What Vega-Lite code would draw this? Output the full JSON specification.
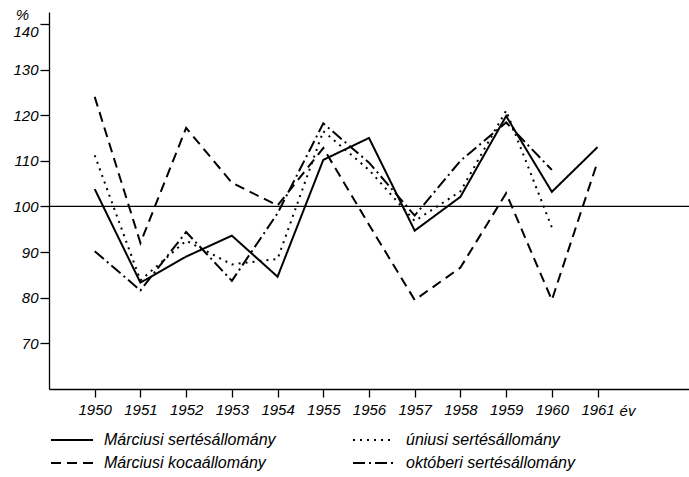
{
  "$schema": "https://vega.github.io/schema/vega-lite/v6.json",
  "width": 640,
  "height": 377,
  "autosize": {"type": "none"},
  "padding": {"left": 49, "top": 12, "right": 0, "bottom": 88},
  "background": "white",
  "config": {
    "view": {"stroke": null},
    "font": "Liberation Sans",
    "axis": {
      "grid": false,
      "domainColor": "black",
      "domainWidth": 1.3,
      "tickColor": "black",
      "tickWidth": 1.3,
      "labelColor": "black",
      "labelFont": "Liberation Sans",
      "labelFontStyle": "italic",
      "labelFontSize": 15,
      "titleColor": "black",
      "titleFont": "Liberation Sans",
      "titleFontStyle": "italic",
      "titleFontWeight": "normal",
      "titleFontSize": 15
    }
  },
  "data": {
    "values": [
      {"year": 1950, "series": "Márciusi sertésállomány", "value": 103.8},
      {"year": 1951, "series": "Márciusi sertésállomány", "value": 83.3},
      {"year": 1952, "series": "Márciusi sertésállomány", "value": 89.0},
      {"year": 1953, "series": "Márciusi sertésállomány", "value": 93.6},
      {"year": 1954, "series": "Márciusi sertésállomány", "value": 84.6},
      {"year": 1955, "series": "Márciusi sertésállomány", "value": 110.2},
      {"year": 1956, "series": "Márciusi sertésállomány", "value": 115.0},
      {"year": 1957, "series": "Márciusi sertésállomány", "value": 94.7},
      {"year": 1958, "series": "Márciusi sertésállomány", "value": 102.1},
      {"year": 1959, "series": "Márciusi sertésállomány", "value": 119.8},
      {"year": 1960, "series": "Márciusi sertésállomány", "value": 103.2},
      {"year": 1961, "series": "Márciusi sertésállomány", "value": 113.0},
      {"year": 1950, "series": "Márciusi kocaállomány", "value": 124.0},
      {"year": 1951, "series": "Márciusi kocaállomány", "value": 92.0},
      {"year": 1952, "series": "Márciusi kocaállomány", "value": 117.2},
      {"year": 1953, "series": "Márciusi kocaállomány", "value": 105.2},
      {"year": 1954, "series": "Márciusi kocaállomány", "value": 100.2},
      {"year": 1955, "series": "Márciusi kocaállomány", "value": 112.8},
      {"year": 1956, "series": "Márciusi kocaállomány", "value": 96.0},
      {"year": 1957, "series": "Márciusi kocaállomány", "value": 79.5},
      {"year": 1958, "series": "Márciusi kocaállomány", "value": 86.6},
      {"year": 1959, "series": "Márciusi kocaállomány", "value": 102.9},
      {"year": 1960, "series": "Márciusi kocaállomány", "value": 79.5},
      {"year": 1961, "series": "Márciusi kocaállomány", "value": 109.8},
      {"year": 1950, "series": "úniusi sertésállomány", "value": 111.2},
      {"year": 1951, "series": "úniusi sertésállomány", "value": 83.8},
      {"year": 1952, "series": "úniusi sertésállomány", "value": 92.5},
      {"year": 1953, "series": "úniusi sertésállomány", "value": 87.3},
      {"year": 1954, "series": "úniusi sertésállomány", "value": 88.5},
      {"year": 1955, "series": "úniusi sertésállomány", "value": 116.5},
      {"year": 1956, "series": "úniusi sertésállomány", "value": 108.0},
      {"year": 1957, "series": "úniusi sertésállomány", "value": 96.8},
      {"year": 1958, "series": "úniusi sertésállomány", "value": 103.3},
      {"year": 1959, "series": "úniusi sertésállomány", "value": 121.0},
      {"year": 1960, "series": "úniusi sertésállomány", "value": 95.4},
      {"year": 1950, "series": "októberi sertésállomány", "value": 90.2},
      {"year": 1951, "series": "októberi sertésállomány", "value": 81.6},
      {"year": 1952, "series": "októberi sertésállomány", "value": 94.4},
      {"year": 1953, "series": "októberi sertésállomány", "value": 83.7},
      {"year": 1954, "series": "októberi sertésállomány", "value": 98.5},
      {"year": 1955, "series": "októberi sertésállomány", "value": 118.2},
      {"year": 1956, "series": "októberi sertésállomány", "value": 109.6},
      {"year": 1957, "series": "októberi sertésállomány", "value": 98.0},
      {"year": 1958, "series": "októberi sertésállomány", "value": 110.0},
      {"year": 1959, "series": "októberi sertésállomány", "value": 118.4},
      {"year": 1960, "series": "októberi sertésállomány", "value": 108.0}
    ]
  },
  "layer": [
    {
      "mark": {"type": "line", "color": "black", "strokeWidth": 2},
      "encoding": {
        "x": {
          "field": "year", "type": "quantitative",
          "scale": {"domain": [1949, 1963], "nice": false, "zero": false},
          "axis": {
            "values": [1950, 1951, 1952, 1953, 1954, 1955, 1956, 1957, 1958, 1959, 1960, 1961],
            "format": "d", "tickSize": 8, "labelPadding": 5,
            "title": "év", "titleX": 578, "titleY": 21, "titleBaseline": "middle", "titleAlign": "center"
          }
        },
        "y": {
          "field": "value", "type": "quantitative",
          "scale": {"domain": [60, 142.6], "nice": false, "zero": false},
          "axis": {
            "values": [70, 80, 90, 100, 110, 120, 130, 140],
            "tickSize": 9, "labelPadding": 2,
            "labelOffset": {"condition": {"test": "datum.value == 140", "value": 8}, "value": 0},
            "title": "%", "titleAngle": 0, "titleX": -27, "titleY": 2, "titleBaseline": "middle", "titleAlign": "center"
          }
        },
        "strokeDash": {
          "field": "series", "type": "nominal",
          "scale": {
            "domain": ["Márciusi sertésállomány", "Márciusi kocaállomány", "úniusi sertésállomány", "októberi sertésállomány"],
            "range": [[1, 0], [10, 6], [2, 5], [12, 4, 2, 4]]
          },
          "legend": {
            "orient": "none", "legendX": 15, "legendY": 420,
            "columns": 2, "columnPadding": 73, "rowPadding": 7,
            "symbolType": "M-3,0H3", "symbolSize": 196, "symbolStrokeColor": "black", "symbolStrokeWidth": 2,
            "labelFont": "Liberation Sans", "labelFontStyle": "italic", "labelFontSize": 16, "labelColor": "black",
            "labelOffset": 24, "labelLimit": 300, "title": null, "padding": 0
          }
        }
      }
    },
    {
      "data": {"values": [{"ref": 100}]},
      "mark": {"type": "rule", "color": "black", "strokeWidth": 1.2},
      "encoding": {
        "y": {"field": "ref", "type": "quantitative"}
      }
    }
  ]
}
